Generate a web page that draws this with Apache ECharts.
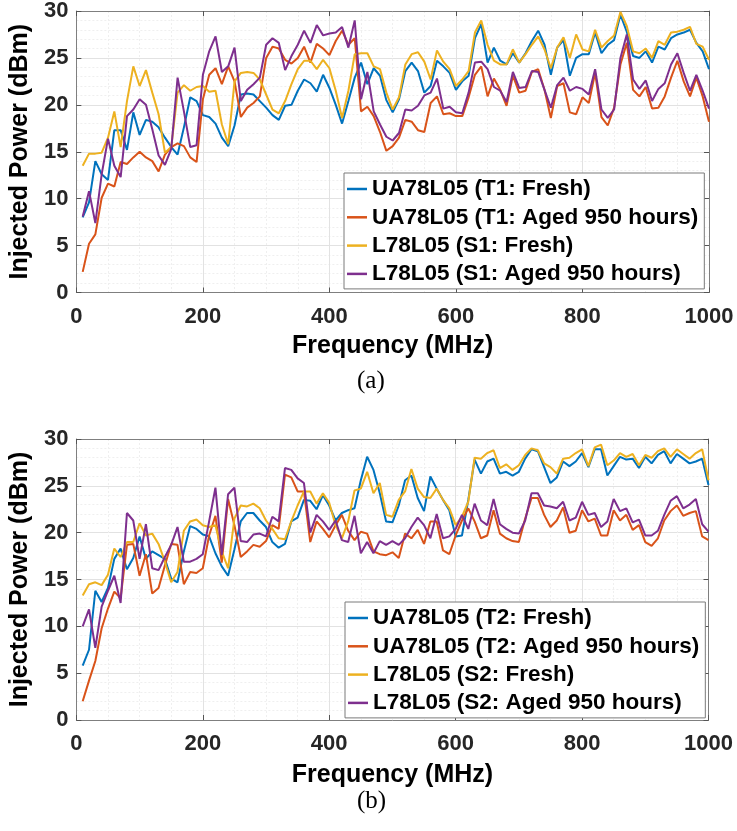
<!DOCTYPE html>
<html>
<head>
<meta charset="utf-8">
<script src="https://cdn.jsdelivr.net/npm/echarts@6/dist/echarts.min.js"></script>
<style>
html,body{margin:0;padding:0;background:#fff;}
#chart{width:737px;height:831px;}
</style>
</head>
<body>
<div id="chart"></div>
<script>
// Frequencies (MHz)
const freq = [10,20,30,40,50,60,70,80,90,100,110,120,130,140,150,160,170,180,190,200,
  210,220,230,240,250,260,270,280,290,300,310,320,330,340,350,360,370,380,390,400,
  410,420,430,440,450,460,470,480,490,500,510,520,530,540,550,560,570,580,590,600,
  610,620,630,640,650,660,670,680,690,700,710,720,730,740,750,760,770,780,790,800,
  810,820,830,840,850,860,870,880,890,900,910,920,930,940,950,960,970,980,990,1000];

const xTicks = [0,200,400,600,800,1000];
const yTicks = [0,5,10,15,20,25,30];

// (a) top panel
const nameA = ['UA78L05 (T1: Fresh)','UA78L05 (T1: Aged 950 hours)','L78L05 (S1: Fresh)','L78L05 (S1: Aged 950 hours)'];
const t1Fresh = [8.0,9.6,14.0,12.6,12.0,17.3,17.3,15.2,19.2,16.8,18.4,18.2,17.6,16.5,15.5,14.7,17.6,20.8,20.4,18.9,
  18.7,18.0,16.5,15.6,17.8,21.1,21.2,21.1,20.4,19.7,18.9,18.4,19.9,20.0,21.5,22.7,22.3,21.4,23.2,21.8,
  20.0,18.0,20.4,22.9,24.5,22.2,23.9,23.1,20.5,19.2,20.6,23.6,24.5,23.6,21.3,22.0,24.7,24.1,23.4,21.6,
  22.5,23.1,27.1,28.6,24.5,26.1,24.7,24.3,25.5,24.5,25.5,26.8,27.9,26.4,23.2,26.1,26.9,23.1,25.0,25.4,
  25.4,27.7,25.5,26.4,26.9,29.6,27.8,25.2,25.0,25.7,24.5,26.2,25.9,27.1,27.5,27.7,28.0,26.6,25.7,23.8];
const t1Aged = [2.2,5.2,6.2,10.1,11.6,11.3,13.9,13.7,14.4,15.0,14.4,14.0,12.9,14.7,15.5,15.9,15.6,14.4,13.9,20.6,
  23.2,23.9,22.2,24.1,22.5,18.7,19.7,20.2,20.9,25.0,26.2,26.0,24.8,24.4,25.0,26.2,24.5,26.5,26.0,25.3,
  26.8,27.9,26.4,27.1,19.3,19.8,18.8,17.1,15.1,15.6,16.5,18.4,18.2,17.3,17.1,20.2,20.9,19.0,19.1,18.8,
  18.8,20.8,23.2,24.1,20.9,22.8,21.6,19.9,23.1,21.3,21.5,23.5,23.8,21.6,18.6,22.0,22.3,19.2,19.0,20.8,
  20.2,23.4,18.7,17.8,19.7,24.3,26.6,21.6,20.9,21.9,19.6,19.7,20.9,22.9,24.7,22.5,20.9,22.9,20.9,18.2];
const s1Fresh = [13.5,14.8,14.8,14.9,16.5,19.3,15.5,20.4,24.1,22.0,23.7,21.3,19.0,14.9,15.5,21.3,22.1,21.5,21.9,22.0,
  21.4,21.5,17.9,15.8,22.5,23.4,23.5,23.4,22.7,21.1,19.5,19.1,20.4,22.2,23.8,24.7,24.7,23.8,24.8,23.9,
  21.5,18.6,21.5,25.4,25.5,25.5,24.1,23.8,21.3,19.5,20.8,24.3,25.4,25.6,24.6,22.7,25.8,24.6,23.8,22.0,
  22.7,23.6,27.7,29.0,26.4,24.7,24.3,24.3,25.9,24.5,25.4,26.4,27.3,25.9,23.9,26.1,27.2,25.0,27.5,25.9,
  25.7,28.0,26.1,26.8,27.4,29.9,28.4,25.7,25.5,26.0,25.0,26.8,26.4,27.7,27.8,28.0,28.3,26.5,26.2,24.8];
const s1Aged = [8.1,10.8,7.4,12.6,16.4,13.5,12.3,18.8,19.5,20.6,20.0,17.4,14.6,13.6,15.3,22.9,19.3,15.5,15.7,23.2,
  25.7,27.3,23.5,24.1,26.1,20.4,21.6,22.2,22.9,26.4,27.1,26.6,23.7,25.2,26.4,27.9,26.6,28.5,27.4,27.6,
  27.7,28.3,26.1,29.0,20.6,23.5,19.3,17.9,16.6,16.2,17.0,19.5,19.4,19.9,21.0,21.3,22.8,19.6,19.8,19.2,
  19.1,21.3,24.5,24.6,23.8,21.9,21.5,20.3,23.5,21.8,21.9,23.6,23.5,21.6,19.7,22.1,22.9,21.5,21.9,21.7,
  21.1,23.8,19.5,18.6,19.5,25.0,27.5,22.7,21.7,22.6,20.4,21.7,22.3,24.3,25.5,23.4,21.5,23.2,21.5,19.6];

// (b) bottom panel
const nameB = ['UA78L05 (T2: Fresh)','UA78L05 (T2: Aged 950 hours)','L78L05 (S2: Fresh)','L78L05 (S2: Aged 950 hours)'];
const t2Fresh = [5.8,7.5,13.8,12.6,14.1,17.2,18.3,16.1,17.3,19.6,17.2,18.0,17.6,17.2,15.1,14.7,18.0,20.7,20.4,19.8,
  19.6,17.8,16.4,15.4,18.2,21.2,22.1,22.1,21.3,20.6,19.0,18.4,18.8,21.2,21.6,23.5,23.4,22.5,24.0,22.9,
  21.3,22.1,22.4,22.6,25.6,28.1,26.7,24.2,21.2,21.1,22.9,25.6,26.1,23.7,22.3,26.0,24.7,23.5,22.4,19.6,
  19.7,23.5,27.8,26.3,27.6,27.9,26.3,26.5,26.1,26.5,27.9,28.9,28.7,27.0,25.3,25.9,27.6,27.1,27.6,28.5,
  27.0,28.9,28.9,26.1,27.1,28.1,27.8,27.9,26.9,28.1,27.4,28.3,28.7,27.4,28.4,27.9,27.4,27.6,27.9,25.1];
const t2Aged = [2.0,4.2,6.3,9.8,11.9,13.7,13.0,18.7,18.8,15.4,17.7,13.5,14.1,16.5,18.8,18.7,14.5,15.8,15.7,16.2,
  19.7,21.8,16.8,23.6,20.8,17.4,18.0,18.7,18.5,19.1,20.8,20.4,26.2,25.9,24.4,24.4,19.0,21.2,20.4,19.5,
  20.8,21.9,20.2,19.2,20.1,19.9,18.0,17.7,17.6,17.9,17.3,19.9,19.4,20.3,18.8,21.2,21.2,18.1,17.7,19.7,
  21.3,22.6,21.2,19.4,19.7,22.4,19.9,19.4,19.1,19.0,21.5,23.7,23.7,21.9,20.6,21.3,22.7,20.0,20.2,22.4,
  21.2,21.5,19.7,19.7,22.4,21.3,21.9,20.3,20.8,19.0,18.6,19.4,21.3,22.3,22.9,21.8,22.1,22.3,19.6,19.2];
const s2Fresh = [13.3,14.5,14.7,14.4,15.5,18.3,17.4,19.0,19.0,21.0,19.7,19.9,18.8,16.9,14.7,15.8,20.2,21.2,21.4,20.8,
  20.6,20.8,18.0,16.2,21.5,22.9,22.8,23.1,22.6,21.3,20.4,19.4,19.3,21.2,22.9,24.4,24.4,23.1,24.2,23.2,
  20.8,19.4,21.2,24.5,24.7,26.5,24.2,25.3,21.9,21.7,23.5,24.4,26.8,24.7,23.8,23.7,24.7,23.5,22.6,20.8,
  21.7,23.3,28.0,27.9,28.5,28.8,26.9,27.3,26.7,27.2,28.3,29.0,28.8,27.4,27.0,26.3,27.9,28.0,28.5,28.9,
  27.1,29.1,29.4,27.2,27.7,28.5,28.1,28.4,27.2,28.3,28.0,28.7,29.0,28.1,28.9,28.4,27.9,28.5,28.9,25.6];
const s2Aged = [10.0,11.8,7.7,12.1,13.8,15.4,12.5,22.1,21.3,17.2,20.9,16.2,16.0,17.4,18.7,20.6,16.9,16.9,17.2,17.7,
  21.2,24.8,17.6,24.1,24.8,19.1,19.0,19.8,19.9,19.6,21.7,21.2,26.9,26.7,25.8,25.3,20.0,21.9,21.2,20.3,
  21.3,19.2,19.0,21.8,17.8,19.0,17.8,19.1,18.7,19.1,18.7,19.4,20.6,21.6,20.8,19.4,22.0,19.4,19.6,20.4,
  21.9,20.4,23.1,21.3,20.8,23.6,20.9,20.4,20.0,19.9,21.3,24.2,24.2,22.9,22.8,22.6,23.3,21.3,21.6,23.3,
  21.9,22.1,20.6,21.2,23.6,22.3,22.6,21.1,21.4,19.7,19.7,20.2,21.9,23.4,23.9,22.6,23.0,23.6,20.9,20.1];

const colors = ['#0072BD','#D95319','#EDB120','#7E2F8E'];
const FONT = '"Liberation Sans", Arial, sans-serif';

const grids = [
  {left: 73, top: 9.5, width: 636, height: 283},
  {left: 75.5, top: 439, width: 633, height: 281}
];

function mainX(gi, gap) {
  return {
    gridIndex: gi, type: 'value', min: xTicks[0], max: xTicks[xTicks.length-1], interval: xTicks[1]-xTicks[0],
    position: 'bottom',
    name: 'Frequency (MHz)', nameLocation: 'middle', nameGap: gap,
    nameTextStyle: {fontFamily: FONT, fontSize: 25, fontWeight: 'bold', color: '#000'},
    axisLine: {show: true, onZero: false, lineStyle: {color: '#7f7f7f', width: 1}},
    axisTick: {show: true, inside: true, length: 5, lineStyle: {color: '#555'}},
    axisLabel: {fontFamily: FONT, fontSize: 22, fontWeight: 'bold', color: '#262626', margin: 13,
      formatter: v => String(v)},
    splitLine: {show: true, lineStyle: {color: '#e2e2e2', width: 1}},
    minorTick: {show: true, splitNumber: 4, length: 0},
    minorSplitLine: {show: true, lineStyle: {color: '#efefef', width: 1, type: [2, 2]}}
  };
}
function boxX(gi) {
  return {
    gridIndex: gi, type: 'value', min: xTicks[0], max: xTicks[xTicks.length-1], interval: xTicks[1]-xTicks[0],
    position: 'top',
    axisLine: {show: true, onZero: false, lineStyle: {color: '#7f7f7f', width: 1}},
    axisTick: {show: true, inside: true, length: 5, lineStyle: {color: '#555'}},
    axisLabel: {show: false}, splitLine: {show: false}
  };
}
function mainY(gi) {
  return {
    gridIndex: gi, type: 'value', min: yTicks[0], max: yTicks[yTicks.length-1], interval: yTicks[1]-yTicks[0],
    position: 'left',
    name: 'Injected Power (dBm)', nameLocation: 'middle', nameGap: 35,
    nameTextStyle: {fontFamily: FONT, fontSize: 25, fontWeight: 'bold', color: '#000'},
    axisLine: {show: true, onZero: false, lineStyle: {color: '#7f7f7f', width: 1}},
    axisTick: {show: true, inside: true, length: 5, lineStyle: {color: '#555'}},
    axisLabel: {fontFamily: FONT, fontSize: 22, fontWeight: 'bold', color: '#262626', margin: 8},
    splitLine: {show: true, lineStyle: {color: '#e2e2e2', width: 1}},
    minorTick: {show: true, splitNumber: 5, length: 0},
    minorSplitLine: {show: true, lineStyle: {color: '#efefef', width: 1, type: [2, 2]}}
  };
}
function boxY(gi) {
  return {
    gridIndex: gi, type: 'value', min: yTicks[0], max: yTicks[yTicks.length-1], interval: yTicks[1]-yTicks[0],
    position: 'right',
    axisLine: {show: true, onZero: false, lineStyle: {color: '#7f7f7f', width: 1}},
    axisTick: {show: true, inside: true, length: 5, lineStyle: {color: '#555'}},
    axisLabel: {show: false}, splitLine: {show: false}
  };
}

function mkSeries(name, vals, color, gi) {
  return {
    name: name, type: 'line', xAxisIndex: gi * 2, yAxisIndex: gi * 2,
    data: freq.map((f, i) => [f, vals[i]]),
    symbol: 'none', smooth: false, animation: false,
    lineStyle: {color: color, width: 2}, itemStyle: {color: color},
    z: 3
  };
}

function mkLegend(names, left, top) {
  return {
    data: names.map(n => ({name: n, icon: 'rect'})), orient: 'vertical', left: left, top: top,
    backgroundColor: '#fff', borderColor: '#7a7a7a', borderWidth: 1, borderRadius: 0,
    padding: [4, 6, 3, 3], itemGap: 4.3, itemWidth: 20, itemHeight: 2.5,
    textStyle: {fontFamily: FONT, fontSize: 22.5, fontWeight: 'bold', color: '#000', lineHeight: 24},
    selectedMode: false, z: 10
  };
}

const aSets = [t1Fresh, t1Aged, s1Fresh, s1Aged];
const bSets = [t2Fresh, t2Aged, s2Fresh, s2Aged];

const series = [];
aSets.forEach((v, k) => series.push(mkSeries(nameA[k], v, colors[k], 0)));
bSets.forEach((v, k) => series.push(mkSeries(nameB[k], v, colors[k], 1)));

const chart = echarts.init(document.getElementById('chart'), null, {renderer: 'canvas'});
chart.setOption({
  backgroundColor: '#fff',
  animation: false,
  grid: grids,
  xAxis: [mainX(0, 41), boxX(0), mainX(1, 43), boxX(1)],
  yAxis: [mainY(0), boxY(0), mainY(1), boxY(1)],
  legend: [mkLegend(nameA, 344, 173), mkLegend(nameB, 345, 602)],
  series: series,
  graphic: [
    {type: 'text', left: 357, top: 369, style: {text: '(a)', font: '25px "Liberation Serif", "DejaVu Serif", serif', fill: '#000'}},
    {type: 'text', left: 357, top: 789, style: {text: '(b)', font: '25px "Liberation Serif", "DejaVu Serif", serif', fill: '#000'}}
  ]
});
</script>
</body>
</html>
